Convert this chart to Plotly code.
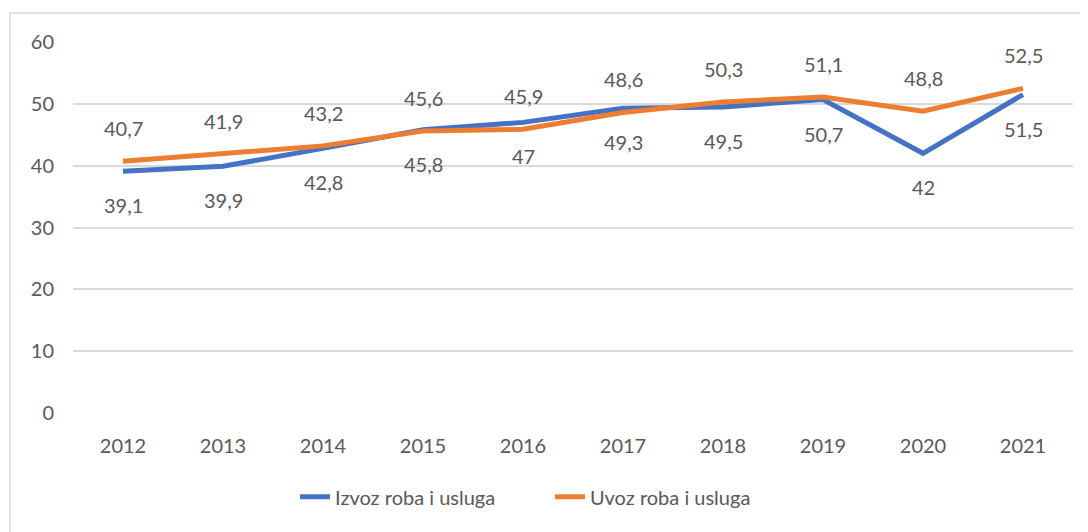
import plotly.graph_objects as go

years = ["2012", "2013", "2014", "2015", "2016", "2017", "2018", "2019", "2020", "2021"]
izvoz = [39.1, 39.9, 42.8, 45.8, 47, 49.3, 49.5, 50.7, 42, 51.5]
uvoz = [40.7, 41.9, 43.2, 45.6, 45.9, 48.6, 50.3, 51.1, 48.8, 52.5]
y_ticks = [0, 10, 20, 30, 40, 50, 60]

BLUE = "#4472C4"
ORANGE = "#ED7D31"
TXT = "#595959"
FONT = "Lato, Open Sans, sans-serif"
FS = 20

def fmt(v):
    return f"{v:g}".replace(".", ",")

fig = go.Figure()
fig.add_trace(go.Scatter(x=years, y=izvoz, mode="lines", name="Izvoz roba i usluga",
                         line=dict(color=BLUE, width=5)))
fig.add_trace(go.Scatter(x=years, y=uvoz, mode="lines", name="Uvoz roba i usluga",
                         line=dict(color=ORANGE, width=5)))

anns = []
for i, v in enumerate(izvoz):
    anns.append(dict(x=i, y=v, xref="x", yref="y", text=fmt(v), showarrow=False, yshift=-34,
                     font=dict(size=FS, color=TXT, family=FONT)))
for i, v in enumerate(uvoz):
    anns.append(dict(x=i, y=v, xref="x", yref="y", text=fmt(v), showarrow=False, yshift=33,
                     font=dict(size=FS, color=TXT, family=FONT)))

fig.update_layout(
    width=1088, height=532,
    margin=dict(l=65, r=23, t=34, b=127),
    paper_bgcolor="white", plot_bgcolor="white",
    font=dict(family=FONT, size=FS, color=TXT),
    annotations=anns,
    showlegend=True,
    legend=dict(orientation="h", x=0.222, xanchor="left", y=-0.226, yanchor="middle",
                font=dict(size=FS, color=TXT), traceorder="normal",
                entrywidth=210, entrywidthmode="pixels"),
    shapes=[dict(type="rect", xref="paper", yref="paper", x0=-0.063, x1=1.05,
                 y0=-0.4, y1=1.078, line=dict(color="#D9D9D9", width=1.5),
                 fillcolor="rgba(0,0,0,0)", layer="below")],
)
fig.update_xaxes(type="category", range=[-0.5, 9.5], showgrid=False, showline=False,
                 zeroline=False, ticks="outside", ticklen=15, tickcolor="rgba(0,0,0,0)",
                 tickfont=dict(size=FS, color=TXT, family=FONT))
fig.update_yaxes(range=[0, 60], tickvals=y_ticks, showgrid=True, gridcolor="#D9D9D9",
                 gridwidth=1.5, zeroline=False, showline=False, ticks="outside", ticklen=14,
                 tickcolor="rgba(0,0,0,0)", tickfont=dict(size=FS, color=TXT, family=FONT))

fig.write_html("out.html")
